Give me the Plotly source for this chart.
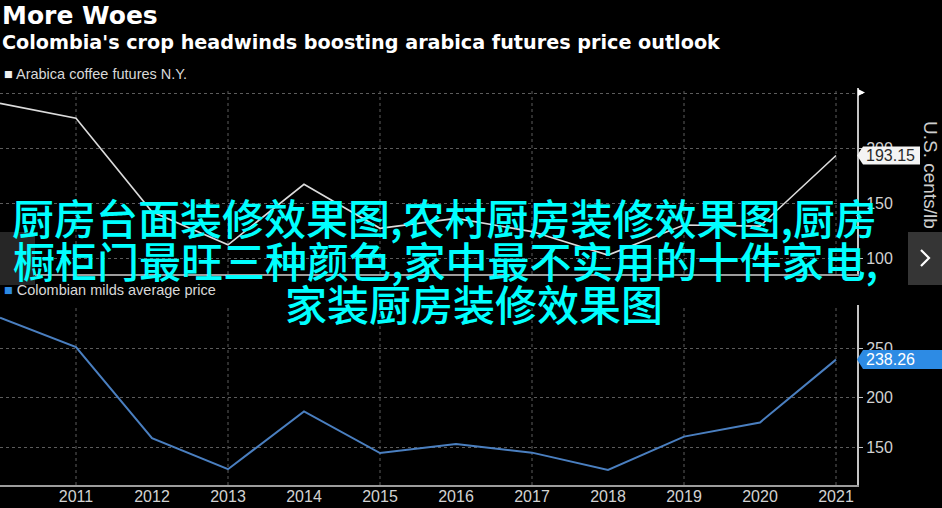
import plotly.graph_objects as go

# ---------------- data ----------------
years = [2010, 2011, 2012, 2013, 2014, 2015, 2016, 2017, 2018, 2019, 2020, 2021]
arabica = [240.6, 227.0, 142.0, 112.0, 167.0, 127.0, 136.0, 124.0, 102.7, 130.0, 129.0, 193.15]
colombian = [280.6, 251.0, 159.0, 127.6, 186.0, 143.9, 153.0, 144.3, 126.9, 160.5, 174.8, 238.26]
tick_years = [2011, 2012, 2013, 2014, 2015, 2016, 2017, 2018, 2019, 2020, 2021]
tick_labels = [str(y) for y in tick_years]
grid_years = [2011, 2013, 2015, 2017, 2019, 2021]
top_ticks = [100, 150, 200, 250]
top_ticktext = ["100", "150", "200", ""]
bottom_ticks = [150, 200, 250]
bottom_ticktext = ["150", "200", "250"]
arabica_last = arabica[-1]
colombian_last = colombian[-1]

title = "More Woes"
subtitle = "Colombia's crop headwinds boosting arabica futures price outlook"
legend_top = "Arabica coffee futures N.Y."
legend_bottom = "Colombian milds average price"
axis_title = "U.S. cents/lb"
overlay_lines = [
    "厨房台面装修效果图,农村厨房装修效果图,厨房",
    "橱柜门最旺三种颜色,家中最不实用的十件家电,",
    "家装厨房装修效果图",
]

# ---------------- helpers ----------------
W, H = 942, 508
def px(x):
    return x / W
def py(y):
    return 1 - y / H

WHITE_LINE = "#dcdcdc"
BLUE_LINE = "#4a7fc0"
GRID = "#5c5c5c"
AXIS = "#c4c4c4"
TICKFONT = dict(family="Liberation Sans, Arial, sans-serif", size=16, color="#d2d2d2")

fig = go.Figure()
fig.add_trace(go.Scatter(x=years, y=arabica, mode="lines", xaxis="x", yaxis="y",
                         line=dict(color=WHITE_LINE, width=1.6), showlegend=False, hoverinfo="skip"))
fig.add_trace(go.Scatter(x=years, y=colombian, mode="lines", xaxis="x2", yaxis="y2",
                         line=dict(color=BLUE_LINE, width=2), showlegend=False, hoverinfo="skip"))

xdom = [0, px(857)]
xrange_ = [2010, 2010 + 857 / 76]

common_x = dict(domain=xdom, range=xrange_, showgrid=False, zeroline=False,
                showline=True, linecolor="#9c9c9c", linewidth=2, ticks="",
                tickfont=TICKFONT, fixedrange=True)

fig.update_layout(
    width=W, height=H,
    margin=dict(l=0, r=0, t=0, b=0),
    paper_bgcolor="black", plot_bgcolor="black",
    xaxis=dict(anchor="y", showticklabels=False, **common_x),
    xaxis2=dict(anchor="y2", tickmode="array", tickvals=tick_years, ticktext=tick_labels,
                showticklabels=True, ticklabelstandoff=-4, **common_x),
    yaxis=dict(domain=[py(274), py(88)], range=[250 - 181 / 1.1, 250 + 5 / 1.1],
               anchor="x", side="right", tickmode="array", tickvals=top_ticks, ticktext=top_ticktext,
               showgrid=True, gridcolor=GRID, griddash="dot", gridwidth=1, zeroline=False,
               showline=True, linecolor=AXIS, linewidth=2, ticks="outside", ticklen=4,
               tickcolor=AXIS, tickfont=TICKFONT, fixedrange=True),
    yaxis2=dict(domain=[py(485), py(305)], range=[150 - 38 / 0.99, 250 + 43 / 0.99],
                anchor="x2", side="right", tickmode="array", tickvals=bottom_ticks, ticktext=bottom_ticktext,
                showgrid=True, gridcolor=GRID, griddash="dot", gridwidth=1, zeroline=False,
                showline=True, linecolor=AXIS, linewidth=2, ticks="outside", ticklen=4,
                tickcolor=AXIS, tickfont=TICKFONT, fixedrange=True),
)

shapes = []
for yr in grid_years:
    for xr, yr_ref in (("x", "y domain"), ("x2", "y2 domain")):
        shapes.append(dict(type="line", xref=xr, yref=yr_ref, x0=yr, x1=yr, y0=0, y1=1,
                           line=dict(color=GRID, width=1, dash="dot"), layer="below"))

shapes.append(dict(type="path", xref="paper", yref="paper",
                   path=f"M {px(858)},{py(89)} L {px(865)},{py(92.5)} L {px(858)},{py(96)} Z",
                   fillcolor="white", line=dict(width=0)))

h_top = 9 / 1.1
shapes.append(dict(type="path", xref="paper", yref="y",
                   path=f"M {px(857)},{arabica_last} L {px(863)},{arabica_last + h_top} "
                        f"L {px(920)},{arabica_last + h_top} L {px(920)},{arabica_last - h_top} "
                        f"L {px(863)},{arabica_last - h_top} Z",
                   fillcolor="#f4f4f4", line=dict(width=0)))
h_bot = 9.5 / 0.99
shapes.append(dict(type="path", xref="paper", yref="y2",
                   path=f"M {px(857)},{colombian_last} L {px(863)},{colombian_last + h_bot} "
                        f"L {px(942)},{colombian_last + h_bot} L {px(942)},{colombian_last - h_bot} "
                        f"L {px(863)},{colombian_last - h_bot} Z",
                   fillcolor="#2d8be4", line=dict(width=0)))

shapes.append(dict(type="rect", xref="paper", yref="paper", x0=px(0), x1=px(35), y0=py(285), y1=py(232),
                   fillcolor="#262626", line=dict(width=0)))
shapes.append(dict(type="rect", xref="paper", yref="paper", x0=px(908), x1=px(942), y0=py(285), y1=py(232),
                   fillcolor="#353535", line=dict(width=0)))
shapes.append(dict(type="path", xref="paper", yref="paper",
                   path=f"M {px(921)},{py(250)} L {px(929)},{py(258)} L {px(921)},{py(266)}",
                   line=dict(color="white", width=2.2)))
fig.update_layout(shapes=shapes)

ann = []
ann.append(dict(x=0, y=py(16), xref="paper", yref="paper", xanchor="left", yanchor="middle",
                text=f"<b>{title}</b>", showarrow=False,
                font=dict(family="DejaVu Sans, Verdana, sans-serif", size=25, color="white")))
ann.append(dict(x=0, y=py(43), xref="paper", yref="paper", xanchor="left", yanchor="middle",
                text=f"<b>{subtitle}</b>", showarrow=False,
                font=dict(family="DejaVu Sans, Verdana, sans-serif", size=19.2, color="white")))
ann.append(dict(x=px(2), y=py(74), xref="paper", yref="paper", xanchor="left", yanchor="middle",
                text=f"<span style='color:#f0f0f0'>■</span> {legend_top}", showarrow=False,
                font=dict(family="Liberation Sans, Arial, sans-serif", size=14.5, color="#d8d8d8")))
ann.append(dict(x=px(2), y=py(290), xref="paper", yref="paper", xanchor="left", yanchor="middle",
                text=f"<span style='color:#2d8be4'>■</span> {legend_bottom}", showarrow=False,
                font=dict(family="Liberation Sans, Arial, sans-serif", size=14.5, color="#d8d8d8")))
ann.append(dict(x=px(931), y=py(175), xref="paper", yref="paper", xanchor="center", yanchor="middle",
                text=axis_title, textangle=90, showarrow=False,
                font=dict(family="Liberation Sans, Arial, sans-serif", size=19, color="#cfcfcf")))
ann.append(dict(x=px(864), y=arabica_last, xref="paper", yref="y", xanchor="left", yanchor="middle",
                text=f"{arabica_last:.2f}", showarrow=False,
                font=dict(family="Liberation Sans, Arial, sans-serif", size=16, color="#2a2a2a")))
ann.append(dict(x=px(864), y=colombian_last, xref="paper", yref="y2", xanchor="left", yanchor="middle",
                text=f"{colombian_last:.2f}", showarrow=False,
                font=dict(family="Liberation Sans, Arial, sans-serif", size=16, color="white")))

overlay_pos = [(10, 216), (11, 259), (283, 302)]
for line, (x0, yc) in zip(overlay_lines, overlay_pos):
    ann.append(dict(x=px(x0), y=py(yc), xref="paper", yref="paper", xanchor="left", yanchor="middle",
                    text=line, showarrow=False,
                    font=dict(family="Noto Sans CJK SC", size=42, color="#00ffff", weight=500)))
fig.update_layout(annotations=ann)

fig.write_html("out.html", config={"displayModeBar": False},
               post_script="document.body.style.margin='0';")
